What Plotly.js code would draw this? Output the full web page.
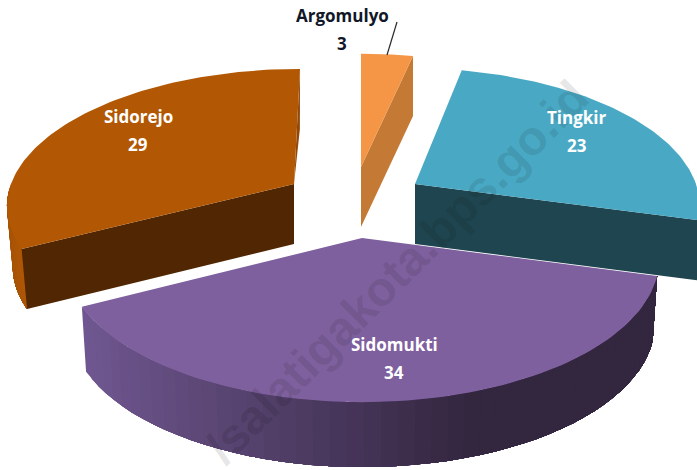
<!DOCTYPE html>
<html>
<head>
<meta charset="utf-8">
<script src="https://cdn.plot.ly/plotly-3.0.1.min.js"></script>
<style>html,body{margin:0;padding:0;background:#fff;overflow:hidden}#c{width:697px;height:470px}</style>
</head>
<body>
<div id="c"></div>
<script>
// Data (clockwise from 12 o'clock)
const categories = ["Argomulyo", "Tingkir", "Sidomukti", "Sidorejo"];
const values = [3, 23, 34, 29];

// Styling / exploded 3D pie geometry, all in page pixels
const topColors = ["#f59646", "#49a9c4", "#7f609e", "#b25703"];
const cutColors = ["#c47a35", "#1f4650", "#2f2540", "#512703"];
const backCutColors = [ "#c47a35", null, null, "#93480a"];
const geom = [
  {cx:361, cy:167, a:283, b:130, shear:0,  depth:60, inset:1.0},
  {cx:415, cy:184, a:281, b:133, shear:-5, depth:60, inset:0.995},
  {cx:362, cy:238, a:294, b:140, shear:0,  depth:65, inset:0.985},
  {cx:294, cy:184, a:283, b:132, shear:6,  depth:60, inset:0.98}
];
const labelPos = [
  {x:342, y:15, dy:28, color:"#101828"},
  {x:577, y:117, dy:28, color:"#ffffff"},
  {x:394, y:344, dy:28, color:"#ffffff"},
  {x:138, y:116, dy:28, color:"#ffffff"}
];
const persp = 0.147;
const drawOrder = [3, 0, 2, 1];

const total = values.reduce((s, v) => s + v, 0);
let acc = 0;
const spans = values.map(v => { const s = acc; acc += v; return [s / total * 2 * Math.PI, acc / total * 2 * Math.PI]; });

function pt(g, th, lower) {
  const u = Math.sin(th), v = Math.cos(th), s = 1 / (1 + persp * v);
  let dx = g.a * u * s + g.shear * v, y = g.cy - g.b * v * s;
  if (lower) { dx *= g.inset; y += g.depth; }
  return [g.cx + dx, y];
}
function apex(g, lower) { return [g.cx, g.cy + (lower ? g.depth : 0)]; }
function poly(points, color) {
  return {type:"scatter", mode:"lines", x:points.map(p => p[0]), y:points.map(p => p[1]),
    fill:"toself", fillcolor:color, line:{color:color, width:0}, hoverinfo:"skip", showlegend:false};
}
function hex(c) { return [1,3,5].map(i => parseInt(c.substr(i,2),16)); }
function mix(c1, c2, t) {
  t = Math.max(0, Math.min(1, t));
  const a = hex(c1), b = hex(c2);
  return "rgb(" + a.map((v,i) => Math.round(v + (b[i]-v)*t)).join(",") + ")";
}
function arc(g, t0, t1, lower, n) {
  const out = [];
  for (let i = 0; i <= n; i++) out.push(pt(g, t0 + (t1 - t0) * i / n, lower));
  return out;
}
const traces = [];
drawOrder.forEach(i => {
  const g = geom[i], [t0, t1] = spans[i];
  // outer wall, only the front part faces the viewer; painted as overlapping bands so no seams show
  const w0 = Math.max(t0, Math.PI / 2), w1 = Math.min(t1, 3 * Math.PI / 2);
  if (w1 > w0 && i !== 1) {
    const n = 48;
    for (let k = n - 1; k >= 0; k--) {
      const a0 = w0 + (w1 - w0) * k / n;
      const top = arc(g, w0, a0 + (w1 - w0) / n, false, k + 1);
      const low = arc(g, w0, a0 + (w1 - w0) / n, true, k + 1).reverse();
      const xm = pt(g, a0, false)[0];
      const col = i === 2 ? mix("#705791", "#33263f", (83 - xm) / (83 - 480)) : mix("#a65206", "#b45a08", (xm - 5) / 25);
      traces.push(poly(top.concat(low), col));
    }
  }
  // cut faces
  if (i === 0) traces.push(poly([pt(g,t1,false), pt(g,t1,true), apex(g,true), apex(g,false)], cutColors[0]));
  if (i === 1) traces.push(poly([apex(g,false), pt(g,t1,false), pt(g,t1,true), apex(g,true)], cutColors[1]));
  if (i === 3) {
    traces.push(poly([pt(g,t1,false), pt(g,t1,true), apex(g,false)], backCutColors[3]));
    traces.push(poly([pt(g,t0,false), apex(g,false), apex(g,true), pt(g,t0,true)], cutColors[3]));
  }
  // top face
  traces.push(poly([apex(g,false)].concat(arc(g,t0,t1,false,90)).concat([apex(g,false)]), topColors[i]));
});

const annotations = [{
  text:"/salatigakota.bps.go.id", xref:"x", yref:"y", x:396, y:272, showarrow:false, textangle:-45,
  font:{family:"Liberation Sans", size:48, color:"rgba(0,0,0,0.11)", weight:700}
}];
categories.forEach((c, i) => {
  const l = labelPos[i];
  [c, String(values[i])].forEach((t, j) => annotations.push({
    text:"<b>" + t + "</b>", xref:"x", yref:"y", x:l.x, y:l.y + j * l.dy, showarrow:false,
    font:{family:"Open Sans", size:17, color:l.color}
  }));
});

const layout = {
  width:697, height:470, margin:{l:0,r:0,t:0,b:0}, autosize:false,
  paper_bgcolor:"#ffffff", plot_bgcolor:"#ffffff", showlegend:false,
  xaxis:{range:[0,697], visible:false, fixedrange:true},
  yaxis:{range:[470,0], visible:false, fixedrange:true},
  annotations:annotations,
  shapes:[{type:"line", xref:"x", yref:"y", x0:397, y0:22, x1:387, y1:55, line:{color:"#2a2a2a", width:1.2}}]
};
Plotly.newPlot("c", traces, layout, {displayModeBar:false, staticPlot:true});
</script>
</body>
</html>
